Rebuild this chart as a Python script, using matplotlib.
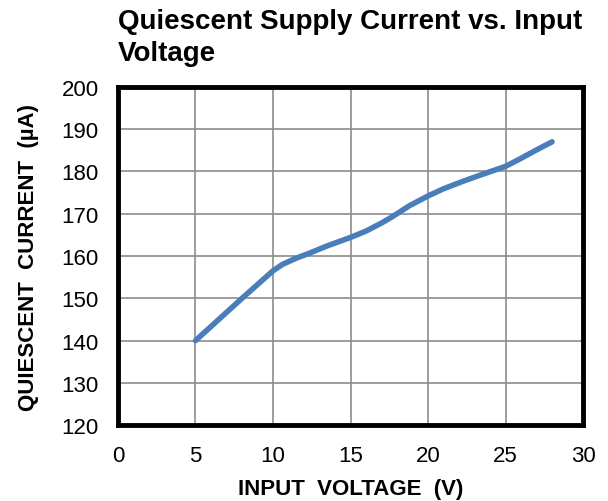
import numpy as np
import matplotlib.pyplot as plt

plt.rcParams['font.family'] = ['Liberation Sans', 'DejaVu Sans']

# podaci ocitani sa grafika
vin = [5, 8, 10, 10.6, 11.5, 12.3, 13.5, 15, 16, 17, 17.7, 18.8, 20, 21, 22.2, 23.5, 25, 26, 27, 28]
iq = [140, 150, 156.5, 158, 159.5, 160.6, 162.4, 164.4, 165.9, 167.8, 169.3, 171.9, 174.2, 175.9, 177.6, 179.3, 181.2, 183.1, 185.1, 187]

x_ticks = [0, 5, 10, 15, 20, 25, 30]
y_ticks = [120, 130, 140, 150, 160, 170, 180, 190, 200]

fig = plt.figure(figsize=(6.08, 5.02), dpi=100)
ax = fig.add_axes([0.194, 0.151, 0.765, 0.674])

ax.plot(vin, iq, color='#4A7EBB', linewidth=4, solid_capstyle='round', solid_joinstyle='round')

ax.set_xlim(0, 30)
ax.set_ylim(120, 200)
ax.set_xticks(x_ticks)
ax.set_yticks(y_ticks)
ax.tick_params(length=0, labelsize=16, pad=14)
ax.grid(True, color='#8c8c8c', linewidth=1.2)
ax.set_axisbelow(True)

for s in ax.spines.values():
    s.set_linewidth(3.5)
    s.set_color('black')

ax.set_xlabel("INPUT  VOLTAGE  (V)", fontsize=16, fontweight='bold', labelpad=9)
ax.set_ylabel("QUIESCENT  CURRENT  (µA)", fontsize=16, fontweight='bold', labelpad=16)

fig.text(0.194, 0.982, "Quiescent Supply Current vs. Input\nVoltage", fontsize=20,
         fontweight='bold', ha='left', va='top', linespacing=1.3)

fig.savefig("out.png", dpi=100)
